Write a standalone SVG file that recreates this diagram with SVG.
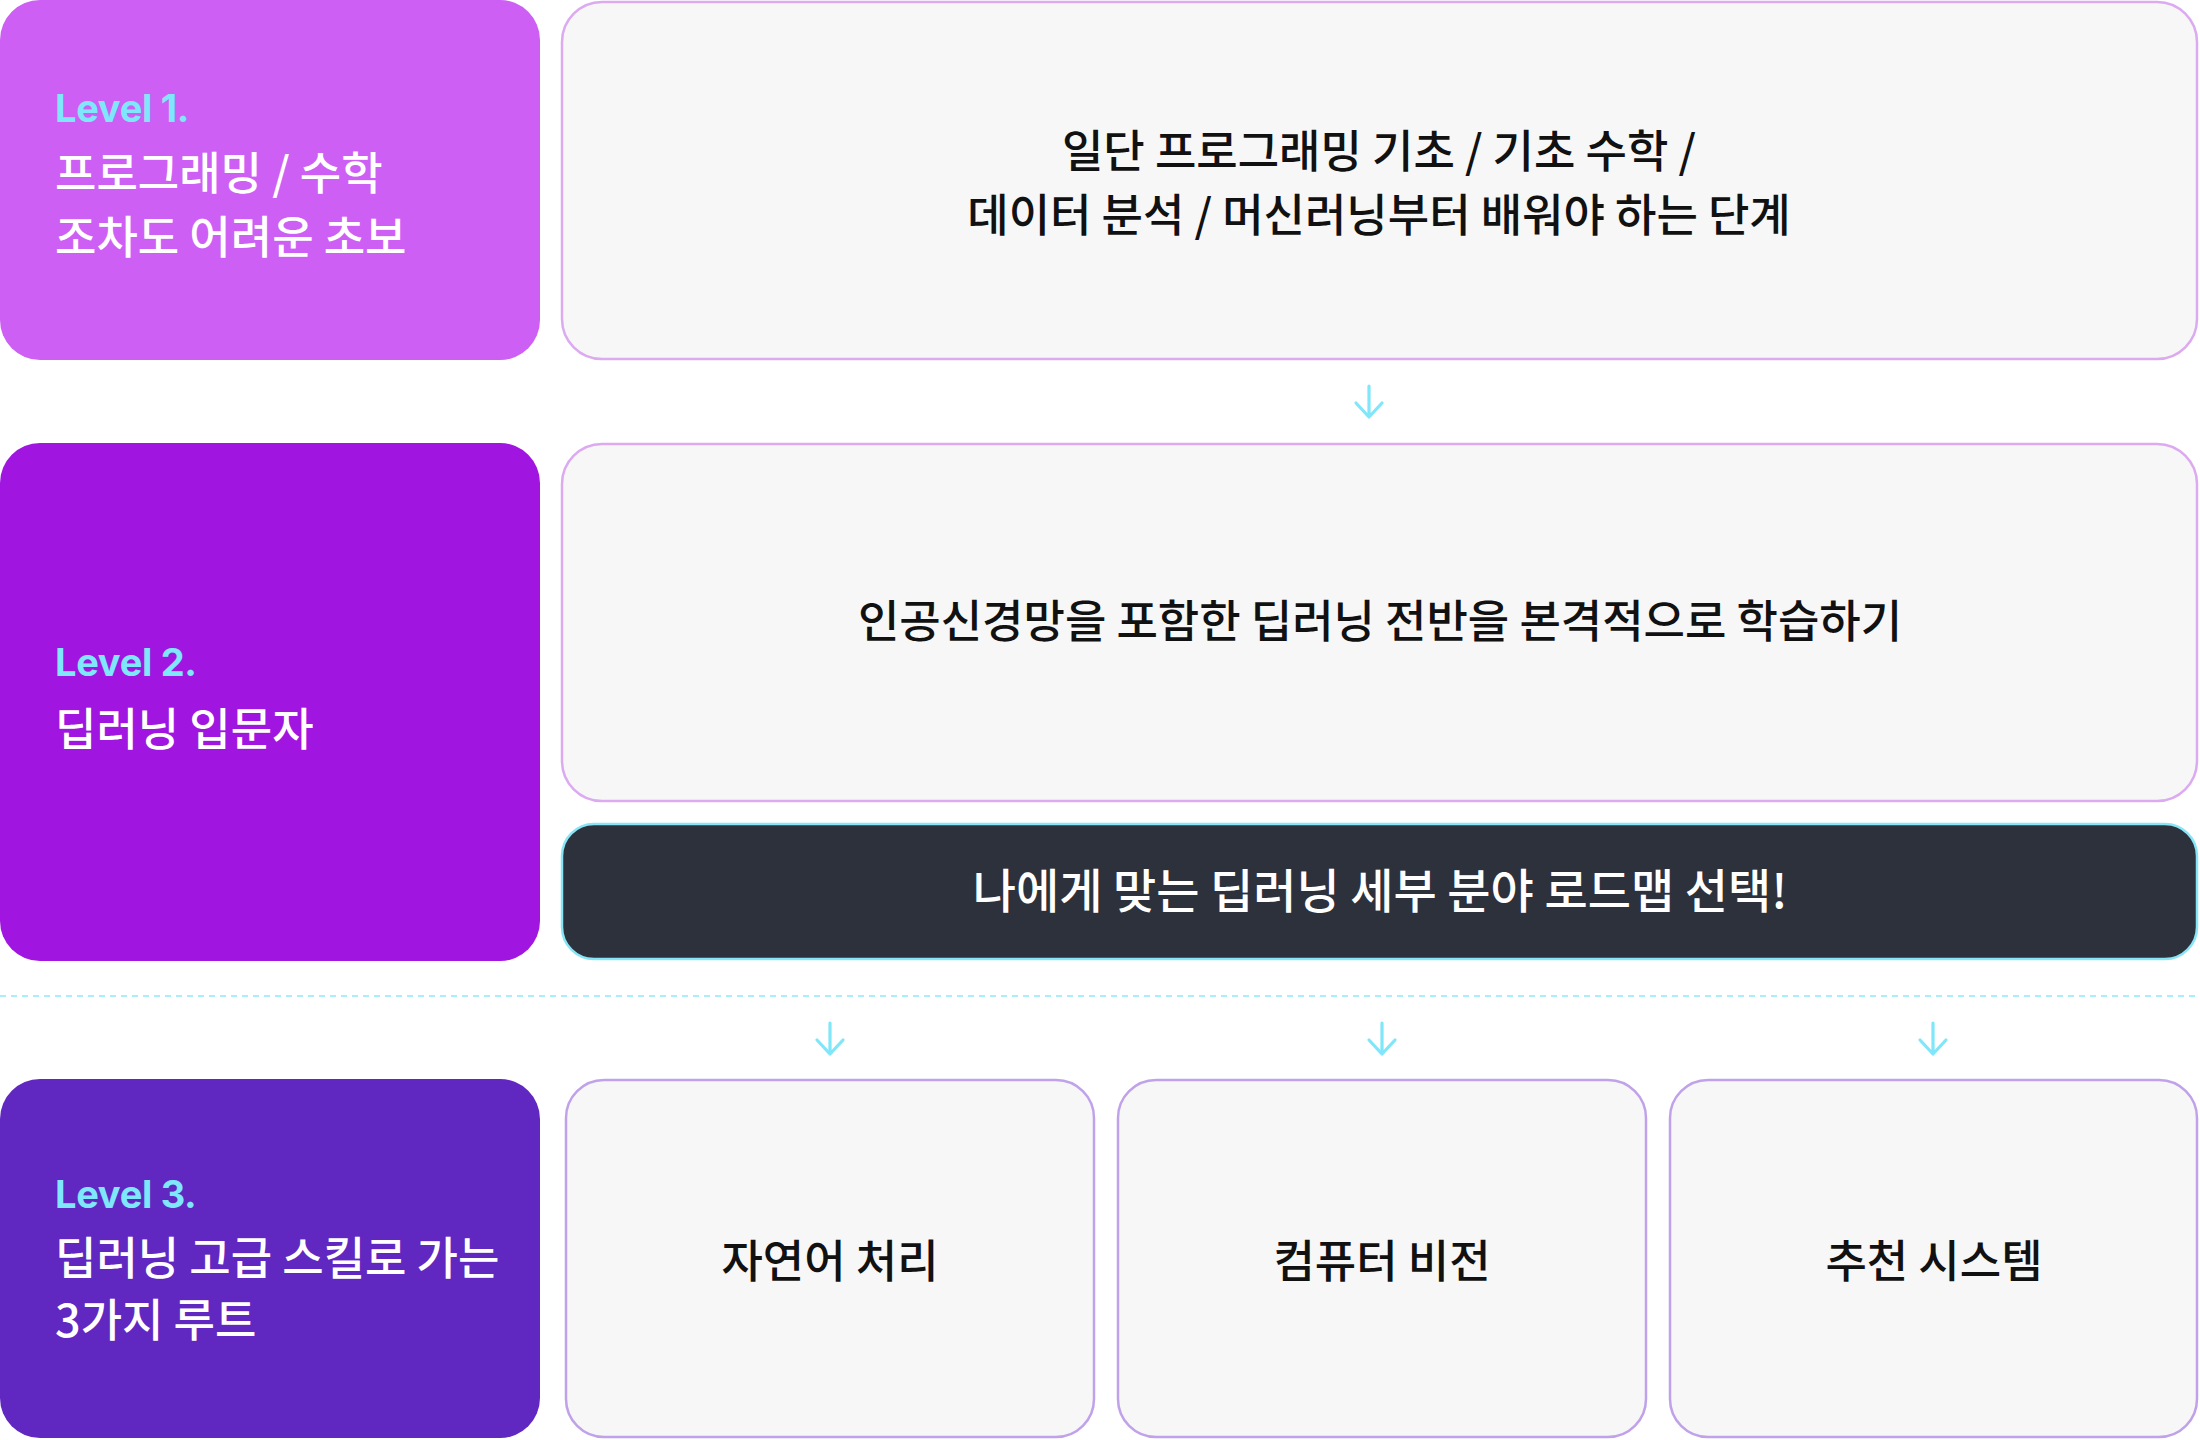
<svg xmlns="http://www.w3.org/2000/svg" width="2200" height="1440" viewBox="0 0 2200 1440">
  <defs>
    <style>
      .lvl { font-family: Inter, "Liberation Sans", sans-serif; font-weight: 700; font-size: 38px; fill: #7fe7fb; letter-spacing: -0.3px; }
      .ttl { font-family: "Noto Sans CJK KR", "Noto Sans", sans-serif; font-weight: 500; font-size: 45px; fill: #ffffff; }
      .body { font-family: "Noto Sans CJK KR", "Noto Sans", sans-serif; font-weight: 500; font-size: 45px; fill: #111111; text-anchor: middle; }
      .body-w { font-family: "Noto Sans CJK KR", "Noto Sans", sans-serif; font-weight: 500; font-size: 47px; fill: #ffffff; text-anchor: middle; }
      .card { fill: #f7f7f7; stroke: #dcaaf0; stroke-width: 2.5; }
      .card3 { fill: #f7f7f7; stroke: #c0a2ea; stroke-width: 2.5; }
      .arrow { fill: none; stroke: #80e6fa; stroke-width: 3.2; stroke-linecap: round; stroke-linejoin: round; }
      .sep { fill: none; stroke: #a8eefb; stroke-width: 2; stroke-dasharray: 6 5; }
    </style>
  </defs>

  <rect width="2200" height="1440" fill="#ffffff"/>

  <g id="level1">
    <rect x="0" y="0" width="540" height="360" rx="40" ry="40" fill="#cd5ff4"/>
    <text class="lvl" x="55" y="122">Level 1.</text>
    <text class="ttl" x="55" y="190">프로그래밍 / 수학</text>
    <text class="ttl" x="55" y="254">조차도 어려운 초보</text>
  </g>

  <g id="level2">
    <rect x="0" y="443" width="540" height="518" rx="40" ry="40" fill="#a016e0"/>
    <text class="lvl" x="55" y="676">Level 2.</text>
    <text class="ttl" x="55" y="746">딥러닝 입문자</text>
  </g>

  <g id="level3">
    <rect x="0" y="1079" width="540" height="359" rx="40" ry="40" fill="#6127c1"/>
    <text class="lvl" x="55" y="1208">Level 3.</text>
    <text class="ttl" x="55" y="1275">딥러닝 고급 스킬로 가는</text>
    <text class="ttl" x="55" y="1337">3가지 루트</text>
  </g>

  <g id="basics">
    <rect class="card" x="562" y="2" width="1635" height="357" rx="40" ry="40"/>
    <text class="body" x="1379" y="168">일단 프로그래밍 기초 / 기초 수학 /</text>
    <text class="body" x="1379" y="232">데이터 분석 / 머신러닝부터 배워야 하는 단계</text>
  </g>

  <g id="deep-learning">
    <rect class="card" x="562" y="444" width="1635" height="357" rx="40" ry="40"/>
    <text class="body" x="1380" y="638">인공신경망을 포함한 딥러닝 전반을 본격적으로 학습하기</text>
  </g>

  <g id="choose-roadmap">
    <rect x="562" y="824" width="1635" height="135" rx="32" ry="32" fill="#2d313c" stroke="#86e6f8" stroke-width="2.5"/>
    <text class="body-w" x="1380" y="908">나에게 맞는 딥러닝 세부 분야 로드맵 선택!</text>
  </g>

  <g id="nlp">
    <rect class="card3" x="566" y="1080" width="528" height="357" rx="38" ry="38"/>
    <text class="body" x="830" y="1278">자연어 처리</text>
  </g>

  <g id="vision">
    <rect class="card3" x="1118" y="1080" width="528" height="357" rx="38" ry="38"/>
    <text class="body" x="1382" y="1278">컴퓨터 비전</text>
  </g>

  <g id="recsys">
    <rect class="card3" x="1670" y="1080" width="527" height="357" rx="38" ry="38"/>
    <text class="body" x="1934" y="1278">추천 시스템</text>
  </g>

  <g id="connectors">
    <line class="sep" x1="0" y1="996" x2="2200" y2="996"/>
    <path class="arrow" d="M1369 386 V417 M1356 403 L1369 417 L1382 403"/>
    <path class="arrow" d="M830 1023 V1054 M817 1040 L830 1054 L843 1040"/>
    <path class="arrow" d="M1382 1023 V1054 M1369 1040 L1382 1054 L1395 1040"/>
    <path class="arrow" d="M1933 1023 V1054 M1920 1040 L1933 1054 L1946 1040"/>
  </g>
</svg>
